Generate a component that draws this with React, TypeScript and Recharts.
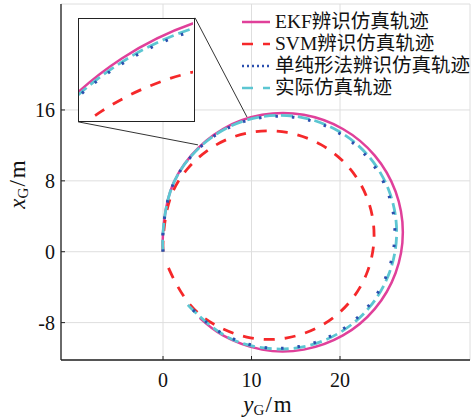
import { LineChart, Line, XAxis, YAxis, CartesianGrid, ReferenceLine } from 'recharts';

// 横轴 y_G/m，纵轴 x_G/m；各轨迹按顺时针方向取点（从原点出发）
const ekfYG = [0, 0, 0.82, 3.17, 6.77, 11.2, 15.9, 20.33, 23.93, 26.28, 27.1, 26.28, 23.93, 20.33, 15.9, 11.2, 6.77, 4.14];
const ekfXG = [0, 2.2, 6.8, 10.85, 13.85, 15.45, 15.45, 13.85, 10.85, 6.8, 2.2, -2.4, -6.45, -9.45, -11.05, -11.05, -9.45, -7.47];

const svmYG = [0, 0.05, 0.77, 2.83, 6.0, 9.88, 14.02, 17.9, 21.07, 23.13, 23.85, 23.13, 21.07, 17.9, 14.02, 9.88, 6.0, 2.83, 0.77, 0.4];
const svmXG = [0, 1.87, 5.9, 9.44, 12.06, 13.46, 13.46, 12.06, 9.44, 5.9, 1.87, -2.16, -5.7, -8.32, -9.72, -9.72, -8.32, -5.7, -2.16, -0.98];

const spxYG = [0, 0, 0.79, 3.07, 6.55, 10.83, 15.37, 19.65, 23.13, 25.41, 26.2, 25.41, 23.13, 19.65, 15.37, 10.83, 6.55, 3.27];
const spxXG = [0, 2.2, 6.68, 10.62, 13.54, 15.1, 15.1, 13.54, 10.62, 6.68, 2.2, -2.28, -6.22, -9.14, -10.7, -10.7, -9.14, -6.46];

const actYG = [0, 0, 0.8, 3.09, 6.6, 10.91, 15.49, 19.8, 23.31, 25.6, 26.4, 25.6, 23.31, 19.8, 15.49, 10.91, 6.6, 3.09, 2.66];
const actXG = [0, 2.2, 6.71, 10.69, 13.63, 15.2, 15.2, 13.63, 10.69, 6.71, 2.2, -2.31, -6.29, -9.23, -10.8, -10.8, -9.23, -6.29, -5.74];

const X_TICKS = [0, 10, 20];
const Y_TICKS = [-8, 0, 8, 16];
const X_DOMAIN = [-11.53, 34.69];
const Y_DOMAIN = [-12.22, 27.96];

// 局部放大区域
const INSET_X = [5.13, 9.5];
const INSET_Y = [11.76, 15.19];

// 放大框与原图之间的连线 [起点, 终点]
const linkA = [{ x: 3.62, y: 26.4 }, { x: 9.49, y: 15.2 }];
const linkB = [{ x: -9.6, y: 14.66 }, { x: 3.95, y: 12.06 }];

const SERIF = 'Liberation Serif, Noto Sans CJK SC, serif';
const AXIS = '#222';

const zip = (ys: number[], xs: number[]) => ys.map((yG, i) => ({ yG, xG: xs[i] }));

const series = [
  { name: 'EKF辨识仿真轨迹', data: zip(ekfYG, ekfXG), color: '#e0409a', width: 2.5, dash: undefined, legendDash: undefined },
  { name: 'SVM辨识仿真轨迹', data: zip(svmYG, svmXG), color: '#f5282a', width: 2.8, dash: '11 10', legendDash: '11 10' },
  { name: '实际仿真轨迹', data: zip(actYG, actXG), color: '#5cc6d2', width: 2.8, dash: '12 5', legendDash: '11 10' },
  { name: '单纯形法辨识仿真轨迹', data: zip(spxYG, spxXG), color: '#2b4fae', width: 3, dash: '2.5 14', legendDash: '2 3' },
];
const legendOrder = [0, 1, 3, 2];

const BottomTick = ({ x, y, payload }: any) => (
  <g>
    <line x1={x} y1={y} x2={x} y2={y - 4} stroke={AXIS} strokeWidth={1} />
    <text x={x} y={y + 27} textAnchor="middle" fontSize={20} fill="#111" style={{ fontFamily: SERIF }}>{payload.value}</text>
  </g>
);
const LeftTick = ({ x, y, payload }: any) => (
  <g>
    <line x1={x} y1={y} x2={x + 4} y2={y} stroke={AXIS} strokeWidth={1} />
    <text x={x - 6} y={y + 7} textAnchor="end" fontSize={20} fill="#111" style={{ fontFamily: SERIF }}>{payload.value}</text>
  </g>
);
const TopTick = ({ x, y }: any) => <line x1={x} y1={y} x2={x} y2={y + 4} stroke={AXIS} strokeWidth={1} />;
const RightTick = ({ x, y }: any) => <line x1={x} y1={y} x2={x - 4} y2={y} stroke={AXIS} strokeWidth={1} />;

function renderLines() {
  return series.map((s) => (
    <Line
      key={s.name}
      data={s.data}
      dataKey="xG"
      name={s.name}
      type="natural"
      stroke={s.color}
      strokeWidth={s.width}
      strokeDasharray={s.dash}
      dot={false}
      activeDot={false}
      isAnimationActive={false}
    />
  ));
}

export default function App() {
  return (
    <div style={{ position: 'absolute', left: 0, top: 0, width: 471, height: 417, background: '#fff', fontFamily: SERIF }}>
      <LineChart width={471} height={417} margin={{ top: 4, right: 1, bottom: 0, left: 0 }}>
        <CartesianGrid stroke="#dedede" strokeWidth={1} />
        <XAxis dataKey="yG" type="number" domain={X_DOMAIN} ticks={X_TICKS} interval={0} allowDataOverflow
          height={57} tickSize={0} tickMargin={0} tick={(p: any) => <BottomTick {...p} />} stroke={AXIS} strokeWidth={1.3} />
        <XAxis xAxisId="top" orientation="top" type="number" domain={X_DOMAIN} ticks={X_TICKS} interval={0} allowDataOverflow
          height={0} tickSize={0} tickMargin={0} tick={(p: any) => <TopTick {...p} />} stroke={AXIS} strokeWidth={1.3} />
        <YAxis type="number" domain={Y_DOMAIN} ticks={Y_TICKS} interval={0} allowDataOverflow
          width={61} tickSize={0} tickMargin={0} tick={(p: any) => <LeftTick {...p} />} stroke={AXIS} strokeWidth={1.3} />
        <YAxis yAxisId="right" orientation="right" type="number" domain={Y_DOMAIN} ticks={Y_TICKS} interval={0} allowDataOverflow
          width={0} tickSize={0} tickMargin={0} tick={(p: any) => <RightTick {...p} />} stroke={AXIS} strokeWidth={1.3} />
        <ReferenceLine segment={linkA} stroke="#333" strokeWidth={1} />
        <ReferenceLine segment={linkB} stroke="#333" strokeWidth={1} />
        {renderLines()}
      </LineChart>

      {/* 局部放大图 */}
      <div style={{ position: 'absolute', left: 78, top: 18, width: 117, height: 104, boxSizing: 'border-box', border: '1.5px solid #222', background: '#fff', overflow: 'hidden' }}>
        <LineChart width={114} height={101} margin={{ top: 0, right: 0, bottom: 0, left: 0 }}>
          <XAxis dataKey="yG" type="number" domain={INSET_X} allowDataOverflow hide />
          <YAxis type="number" domain={INSET_Y} allowDataOverflow hide />
          {renderLines()}
        </LineChart>
      </div>

      {/* 图例 */}
      <div style={{ position: 'absolute', left: 242, top: 11, fontSize: 19.5, lineHeight: '22px', color: '#111' }}>
        {legendOrder.map((i) => {
          const s = series[i];
          return (
            <div key={s.name} style={{ display: 'flex', alignItems: 'center', height: 22 }}>
              <svg width={28} height={22}>
                <line x1={0} y1={11} x2={28} y2={11} stroke={s.color} strokeWidth={2.5} strokeDasharray={s.legendDash} />
              </svg>
              <span style={{ marginLeft: 5, whiteSpace: 'nowrap' }}>{s.name}</span>
            </div>
          );
        })}
      </div>

      {/* 坐标轴标题 */}
      <svg width={471} height={417} style={{ position: 'absolute', left: 0, top: 0, pointerEvents: 'none', fontFamily: SERIF }}>
        <text x={267.5} y={411.5} textAnchor="middle" fontSize={23} fill="#111">
          <tspan fontStyle="italic">y</tspan>
          <tspan fontSize={15} dy={3}>G</tspan>
          <tspan dy={-3} dx={1}>/</tspan>
          <tspan dx={2}>m</tspan>
        </text>
        <text transform="translate(25,184.5) rotate(-90)" textAnchor="middle" fontSize={23} fill="#111">
          <tspan fontStyle="italic">x</tspan>
          <tspan fontSize={15} dy={3}>G</tspan>
          <tspan dy={-3} dx={1}>/</tspan>
          <tspan dx={2}>m</tspan>
        </text>
      </svg>
    </div>
  );
}
